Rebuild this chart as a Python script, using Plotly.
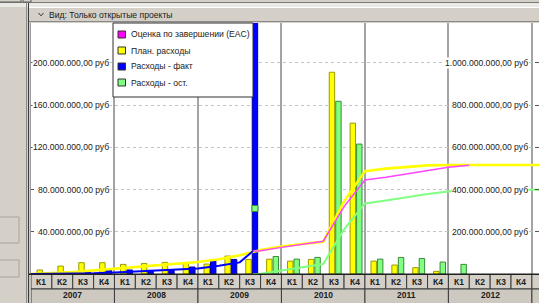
import plotly.graph_objects as go

# ---------------- data ----------------
years = ["2007", "2008", "2009", "2010", "2011", "2012", "2013"]
quarter_names = ["К1", "К2", "К3", "К4"]
quarters = [q for _ in years[:-1] for q in quarter_names] + ["К1"]  # last one = 2013 К1 (cut off)

series_names = ["Оценка по завершении (EAC)", "План. расходы", "Расходы - факт", "Расходы - ост."]

# quarterly amounts, million rub (left axis)
plan_q = [3.8, 7.5, 10.7, 10.7, 9.1, 10.0, 11.0, 10.3, 9.4, 17.0, 13.8, 14.0,
          12.2, 13.8, 191.0, 142.8, 12.2, 8.5, 6.0, 2.5, None, None, None, None, None]
fact_q = [None, None, 2.8, 4.0, 3.8, 3.4, 3.4, 6.6, 12.9, 13.8, 300.0, None,
          None, None, None, None, None, None, None, None, None, None, None, None, None]
ost_q = [None, None, None, None, None, None, None, None, None, None, None, 16.6,
         14.1, 15.7, 163.5, 123.0, 14.1, 15.7, 14.7, 11.3, 9.1, None, None, None, None]
ost_mark_q = [10]          # quarter index of the small marker on the big fact bar
ost_mark_v = [62.0]

# status date as a position in quarter units (mid-August 2009)
status_pos = 10.13

# cumulative lines, million rub (right axis), values at quarter ends
plan_cum = [0, 3, 9, 17, 25, 32, 40, 48, 57, 70, 89, 113, 130, 142, 153, 344,
            487, 499, 508, 514, 516, 516, 516, 516, 516, 516]          # q = -1 .. 24
fact_cum = [0, 0.5, 1, 3, 7, 11, 15, 19, 26, 39, 55, 108]             # q = -1 .. 9, status
ost_cum = [0, 1, 17, 31, 47, 211, 334, 348, 364, 379, 390, 399, 399, 399, 399, 399]  # status, q=10..24
eac_cum = [108, 110, 126, 140, 155, 319, 445, 458, 473, 488, 505, 515]  # status, q=10..20

left_ticks = [40, 80, 120, 160, 200]
right_ticks = [200, 400, 600, 800, 1000]

# ---------------- geometry helpers (pixels -> paper) ----------------
W, H = 539, 303
L, R, T, B = 31, 0, 23, 29
PW, PH = W - L - R, H - T - B


def px(x):
    return (x - L) / PW


def py(y):
    return (H - B - y) / PH


def fmt(v):
    return f"{int(round(v * 1e6)):,}".replace(",", ".") + ",00 руб"


FONT = "Liberation Sans, Arial, sans-serif"
FS = 8.6
TXT = "#1a1a1a"
GRAY = "#d4d0c8"
BAR_W = 0.26
PLAN_OFF = -0.21
FACT_OFF = 0.10

colors = {"eac": "#ff44ff", "plan": "#ffff00", "fact": "#0000ff", "ost": "#80ff80"}
legend_colors = ["#ff00ff", "#ffff00", "#0000ff", "#80ff80"]

idx = list(range(len(quarters)))

fig = go.Figure()

fig.add_bar(x=idx, y=plan_q, offset=PLAN_OFF, width=BAR_W, name=series_names[1],
            marker=dict(color=colors["plan"], line=dict(color="#9a9a00", width=1)))
fig.add_bar(x=idx, y=fact_q, offset=FACT_OFF, width=BAR_W, name=series_names[2],
            marker=dict(color=colors["fact"], line=dict(color="#00009a", width=1)))
fig.add_bar(x=idx, y=ost_q, offset=FACT_OFF, width=BAR_W, name=series_names[3],
            marker=dict(color=colors["ost"], line=dict(color="#3a8a3a", width=1)))
fig.add_scatter(x=[q + FACT_OFF + BAR_W / 2 for q in ost_mark_q], y=ost_mark_v, mode="markers",
                marker=dict(symbol="square", size=6, color=colors["ost"],
                            line=dict(color="#3a8a3a", width=1)), showlegend=False)

x_end_all = [q + 0.5 for q in range(-1, len(quarters))]
fig.add_scatter(x=x_end_all, y=plan_cum, yaxis="y2", mode="lines",
                line=dict(color=colors["plan"], width=2.6), name=series_names[1])
fig.add_scatter(x=[status_pos] + [q + 0.5 for q in range(10, 25)], y=ost_cum, yaxis="y2",
                mode="lines", line=dict(color=colors["ost"], width=2), name=series_names[3])
fig.add_scatter(x=[status_pos] + [q + 0.5 for q in range(10, 21)], y=eac_cum, yaxis="y2",
                mode="lines", line=dict(color=colors["eac"], width=1.5), name=series_names[0])
fig.add_scatter(x=[q + 0.5 for q in range(-1, 10)] + [status_pos], y=fact_cum, yaxis="y2",
                mode="lines", line=dict(color=colors["fact"], width=2), name=series_names[2])

y_top = (H - B - T) / 42.25 * 40
year_bounds = [4 * k + 3.5 for k in range(len(years) - 1)]

fig.update_layout(
    width=W, height=H, margin=dict(l=L, r=R, t=T, b=B, pad=0),
    paper_bgcolor=GRAY, plot_bgcolor="white", barmode="overlay", showlegend=False,
    font=dict(family=FONT, size=FS, color=TXT),
    xaxis=dict(range=[-0.5, 23.84], tickvals=year_bounds, showticklabels=False, ticks="",
               showgrid=True, gridcolor="#a4a4a4", gridwidth=1.5, zeroline=False, showline=False),
    yaxis=dict(range=[0, y_top], tickvals=left_ticks, showticklabels=False, ticks="inside",
               ticklen=3, tickcolor="#555", showgrid=True, gridcolor="#c4c4c4", gridwidth=1,
               griddash="3px,3px", zeroline=False, showline=True, linecolor="#9a9a9a", linewidth=1),
    yaxis2=dict(range=[0, y_top * 5], overlaying="y", side="right", tickvals=right_ticks,
                showticklabels=False, ticks="inside", ticklen=4, tickcolor="#555",
                showgrid=False, zeroline=False, showline=False),
)

shapes = []
ann = []

# tick labels with white background
for v in left_ticks:
    ann.append(dict(x=px(110), xref="paper", xanchor="right", y=v, yref="y", yanchor="middle",
                    text=fmt(v), showarrow=False, bgcolor="white", borderpad=0,
                    font=dict(size=FS, color=TXT, family=FONT)))
for v in right_ticks:
    ann.append(dict(x=px(529), xref="paper", xanchor="right", y=v, yref="y2", yanchor="middle",
                    text=fmt(v), showarrow=False, bgcolor="white", borderpad=0,
                    font=dict(size=FS, color=TXT, family=FONT)))

# legend (manual)
shapes.append(dict(type="rect", xref="paper", yref="paper", x0=px(113), x1=px(253),
                   y0=py(97), y1=py(23), fillcolor="white", line=dict(color="#303030", width=1),
                   layer="above"))
for k, (name, c) in enumerate(zip(series_names, legend_colors)):
    yc = 34.5 + 16 * k
    shapes.append(dict(type="rect", xref="paper", yref="paper", x0=px(118), x1=px(125.5),
                       y0=py(yc + 3.5), y1=py(yc - 3.5), fillcolor=c,
                       line=dict(color="#303030", width=1), layer="above"))
    ann.append(dict(x=px(128.5), xref="paper", xanchor="left", y=py(yc), yref="paper",
                    yanchor="middle", text=name, showarrow=False,
                    font=dict(size=FS, color=TXT, family=FONT)))

# bottom band: quarter cells and year cells
shapes.append(dict(type="rect", xref="paper", yref="paper", x0=px(29), x1=px(W + 2),
                   y0=py(H + 2), y1=py(274), fillcolor="#c8c4bc", line=dict(width=0)))
for i, q in enumerate(quarters):
    shapes.append(dict(type="rect", xref="x", yref="paper", x0=i - 0.5, x1=i + 0.5,
                       y0=py(289), y1=py(274.5), fillcolor=GRAY,
                       line=dict(color="#3c3c3c", width=1)))
    ann.append(dict(x=i, xref="x", y=py(281.5), yref="paper", yanchor="middle",
                    text=f"<b>{q}</b>", showarrow=False,
                    font=dict(size=8.5, color="#202020", family=FONT)))
for k, yr in enumerate(years):
    shapes.append(dict(type="rect", xref="x", yref="paper", x0=4 * k - 0.5, x1=4 * k + 3.5,
                       y0=py(H + 3), y1=py(289), fillcolor="#cdc9c1",
                       line=dict(color="#3c3c3c", width=1)))
    if k < len(years) - 1:
        ann.append(dict(x=4 * k + 1.5, xref="x", y=py(295), yref="paper", yanchor="middle",
                        text=f"<b>{yr}</b>", showarrow=False,
                        font=dict(size=8.5, color="#202020", family=FONT)))
shapes.append(dict(type="line", xref="paper", yref="paper", x0=px(29), x1=px(W + 2),
                   y0=py(274.3), y1=py(274.3), line=dict(color="#202020", width=1.5)))

# window chrome: top strip, header, left panel
shapes.append(dict(type="rect", xref="paper", yref="paper", x0=px(-2), x1=px(W + 2),
                   y0=py(7), y1=py(2.5), fillcolor="#ebe9e4", line=dict(width=0)))
shapes.append(dict(type="line", xref="paper", yref="paper", x0=px(-2), x1=px(W + 2),
                   y0=py(2.5), y1=py(2.5), line=dict(color="#7a7a7a", width=1)))
for x0, x1 in [(-2, 21), (23, 31)]:
    shapes.append(dict(type="rect", xref="paper", yref="paper", x0=px(x0), x1=px(x1),
                       y0=py(2), y1=py(-3), fillcolor=GRAY, line=dict(color="#606060", width=1)))
shapes.append(dict(type="line", xref="paper", yref="paper", x0=px(29), x1=px(W + 2),
                   y0=py(7.5), y1=py(7.5), line=dict(color="#ffffff", width=1)))
shapes.append(dict(type="line", xref="paper", yref="paper", x0=px(29), x1=px(W + 2),
                   y0=py(21.5), y1=py(21.5), line=dict(color="#8a8a8a", width=1)))
shapes.append(dict(type="path", xref="paper", yref="paper",
                   path=f"M {px(38.5)} {py(13)} L {px(41)} {py(15.8)} L {px(43.5)} {py(13)}",
                   line=dict(color="#303030", width=1)))
ann.append(dict(x=px(47), xref="paper", xanchor="left", y=py(14.5), yref="paper",
                yanchor="middle", text="Вид: Только открытые проекты", showarrow=False,
                font=dict(size=FS, color=TXT, family=FONT)))

for xx, c in [(26.5, "#8a8a8a"), (28.5, "#3a3a3a")]:
    shapes.append(dict(type="line", xref="paper", yref="paper", x0=px(xx), x1=px(xx),
                       y0=py(H + 2), y1=py(3), line=dict(color=c, width=1)))
for y0, y1 in [(217, 243), (260, 277)]:
    shapes.append(dict(type="rect", xref="paper", yref="paper", x0=px(-2), x1=px(19),
                       y0=py(y1), y1=py(y0), fillcolor=GRAY,
                       line=dict(color="#a8a49c", width=1)))

fig.update_layout(shapes=shapes, annotations=ann)
fig.write_html("out.html", config={"displayModeBar": False},
               post_script="document.body.style.margin='0';document.body.style.padding='0';"
                           "document.body.style.overflow='hidden';")
